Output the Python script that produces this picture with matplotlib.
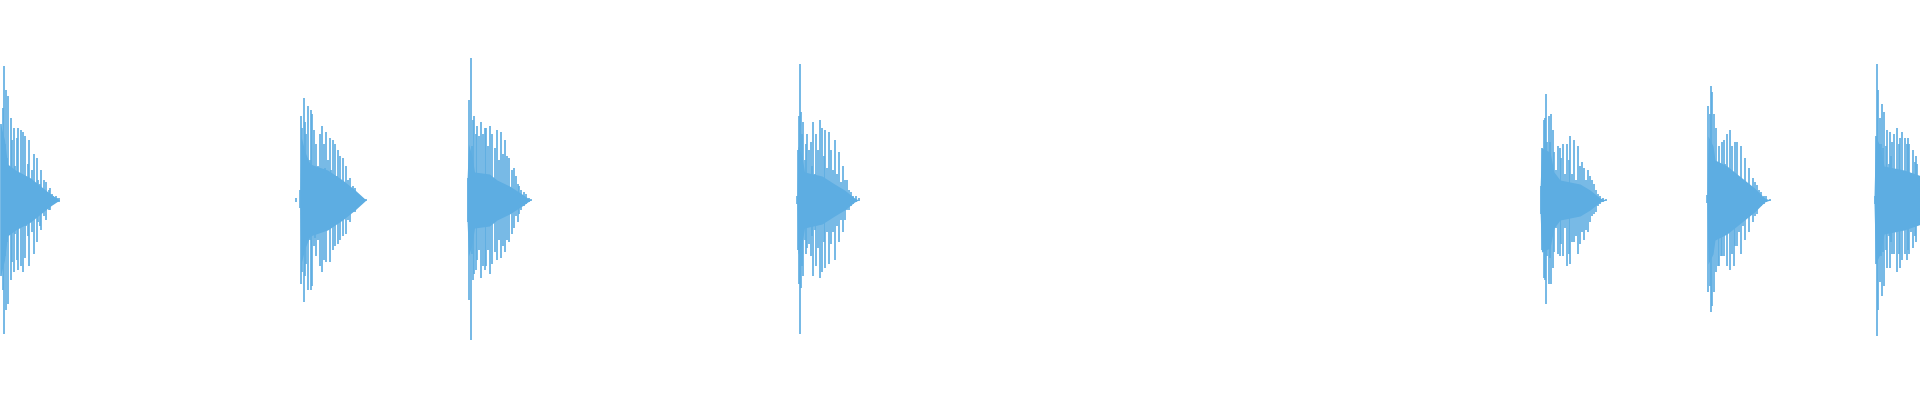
"""Drum-hit waveform strip: seven decaying bursts on a bare white canvas.
Saves out.png (1920x400)."""
import matplotlib
matplotlib.use("Agg")
import matplotlib.pyplot as plt
import numpy as np

COLOR = "#5DADE2"
DURATION_MS = 3840                                   # visible span
ONSETS_MS = [1, 600, 934, 1594, 3080, 3414, 3748]    # start of each hit

# per hit: peak times (ms after onset), peak max / min (normalised amplitude)
B1_T = [0, 5, 7, 9, 11, 13, 15, 18, 21, 23, 26, 29, 32, 35, 37, 41, 43, 45, 48, 51, 54, 57, 61, 63,
        66, 69, 72, 75, 79, 81, 84, 87, 90, 93, 97, 99, 102, 105, 110, 113, 117]
B1_HI = [0.38, 0.46, 0.67, 0.28, 0.55, 0.21, 0.52, 0.11, 0.41, 0.30, 0.36, 0.17, 0.31, 0.36, 0.13,
         0.35, 0.13, 0.34, 0.32, 0.09, 0.18, 0.30, 0.08, 0.15, 0.23, 0.05, 0.21, 0.10, 0.08, 0.15,
         0.04, 0.10, 0.09, 0.04, 0.05, 0.06, 0.03, 0.02, 0.02, 0.01, 0.01]
B1_LO = [-0.38, -0.45, -0.67, -0.28, -0.55, -0.21, -0.52, -0.11, -0.40, -0.31, -0.36, -0.17, -0.30,
         -0.35, -0.13, -0.33, -0.13, -0.36, -0.29, -0.13, -0.18, -0.33, -0.08, -0.16, -0.27, -0.07,
         -0.21, -0.11, -0.13, -0.15, -0.06, -0.08, -0.10, -0.04, -0.05, -0.05, -0.02, -0.02, -0.01,
         -0.01, -0.01]
B1_CORE_T = [0, 8, 14, 30, 60, 80, 100, 118]
B1_CORE = [0.38, 0.30, 0.18, 0.15, 0.11, 0.07, 0.03, 0.0]

B2_T = [-8, 0, 2, 4, 7, 9, 12, 15, 19, 21, 24, 27, 29, 32, 36, 39, 41, 44, 47, 49, 52, 55, 59, 62,
        65, 70, 73, 75, 80, 85, 91, 95, 100, 105, 110, 115, 120, 125, 132]
B2_HI = [0.01, 0.05, 0.42, 0.36, 0.51, 0.39, 0.33, 0.47, 0.20, 0.45, 0.43, 0.35, 0.15, 0.28, 0.17,
         0.33, 0.15, 0.37, 0.28, 0.16, 0.34, 0.20, 0.31, 0.15, 0.30, 0.28, 0.12, 0.25, 0.22, 0.21,
         0.17, 0.10, 0.11, 0.07, 0.06, 0.03, 0.015, 0.01, 0.005]
B2_LO = [-0.01, -0.04, -0.42, -0.36, -0.51, -0.38, -0.32, -0.45, -0.20, -0.45, -0.43, -0.23, -0.19,
         -0.28, -0.20, -0.33, -0.15, -0.36, -0.30, -0.14, -0.31, -0.14, -0.31, -0.13, -0.25, -0.23,
         -0.10, -0.22, -0.20, -0.18, -0.17, -0.10, -0.11, -0.06, -0.06, -0.03, -0.015, -0.01, -0.005]
B2_CORE_T = [0, 2, 10, 20, 55, 85, 110, 132]
B2_CORE = [0.05, 0.32, 0.24, 0.18, 0.15, 0.10, 0.05, 0.0]

B3_T = [1, 4, 7, 9, 11, 14, 17, 19, 23, 27, 31, 35, 38, 42, 45, 50, 55, 60, 63, 68, 71, 76, 79, 84,
        89, 93, 97, 101, 104, 108, 113, 117, 123, 127]
B3_HI = [0.11, 0.50, 0.71, 0.27, 0.40, 0.42, 0.33, 0.37, 0.32, 0.39, 0.33, 0.36, 0.36, 0.27, 0.37,
         0.33, 0.26, 0.35, 0.20, 0.34, 0.23, 0.30, 0.22, 0.21, 0.15, 0.16, 0.12, 0.08, 0.07, 0.05,
         0.04, 0.03, 0.01, 0.005]
B3_LO = [-0.11, -0.50, -0.70, -0.27, -0.40, -0.37, -0.35, -0.30, -0.25, -0.39, -0.33, -0.35, -0.33,
         -0.25, -0.37, -0.32, -0.26, -0.30, -0.20, -0.29, -0.23, -0.26, -0.20, -0.21, -0.17, -0.14,
         -0.08, -0.11, -0.07, -0.05, -0.03, -0.02, -0.01, -0.005]
B3_CORE_T = [0, 3, 10, 15, 45, 60, 85, 110, 127]
B3_CORE = [0.10, 0.28, 0.22, 0.14, 0.13, 0.10, 0.07, 0.03, 0.0]

B4_T = [0, 2, 4, 6, 8, 10, 12, 15, 17, 20, 23, 27, 29, 32, 35, 38, 41, 45, 49, 53, 56, 60, 64, 67,
        71, 75, 79, 83, 87, 91, 95, 99, 103, 107, 112, 117, 123]
B4_HI = [0.02, 0.25, 0.42, 0.68, 0.44, 0.33, 0.39, 0.20, 0.28, 0.33, 0.25, 0.29, 0.17, 0.39, 0.13,
         0.33, 0.25, 0.40, 0.36, 0.22, 0.35, 0.16, 0.34, 0.25, 0.15, 0.30, 0.13, 0.24, 0.09, 0.17,
         0.10, 0.10, 0.05, 0.04, 0.02, 0.02, 0.01]
B4_LO = [-0.02, -0.25, -0.42, -0.67, -0.44, -0.33, -0.38, -0.20, -0.27, -0.24, -0.22, -0.28, -0.18,
         -0.38, -0.15, -0.33, -0.24, -0.39, -0.36, -0.21, -0.34, -0.16, -0.32, -0.22, -0.16, -0.30,
         -0.13, -0.21, -0.10, -0.16, -0.10, -0.05, -0.05, -0.03, -0.02, -0.01, -0.005]
B4_CORE_T = [0, 2, 10, 15, 50, 75, 95, 115, 123]
B4_CORE = [0.02, 0.27, 0.22, 0.14, 0.12, 0.08, 0.05, 0.01, 0.0]

B5_T = [1, 4, 7, 9, 11, 13, 17, 19, 21, 25, 28, 32, 35, 39, 42, 45, 49, 53, 57, 60, 64, 68, 71, 75,
        79, 83, 87, 91, 95, 99, 103, 107, 111, 115, 120, 125, 132]
B5_HI = [0.07, 0.26, 0.40, 0.41, 0.53, 0.29, 0.42, 0.29, 0.43, 0.35, 0.24, 0.15, 0.27, 0.26, 0.21,
         0.28, 0.13, 0.28, 0.20, 0.32, 0.13, 0.30, 0.10, 0.27, 0.17, 0.19, 0.16, 0.10, 0.15, 0.12,
         0.10, 0.08, 0.05, 0.03, 0.02, 0.01, 0.005]
B5_LO = [-0.07, -0.25, -0.39, -0.40, -0.52, -0.28, -0.42, -0.29, -0.42, -0.34, -0.26, -0.14, -0.27,
         -0.28, -0.22, -0.28, -0.14, -0.33, -0.27, -0.32, -0.21, -0.21, -0.18, -0.27, -0.22, -0.16,
         -0.20, -0.15, -0.16, -0.11, -0.08, -0.07, -0.06, -0.03, -0.02, -0.01, -0.005]
B5_CORE_T = [0, 3, 20, 28, 40, 80, 100, 120, 132]
B5_CORE = [0.05, 0.26, 0.24, 0.14, 0.10, 0.08, 0.05, 0.01, 0.0]

B6_T = [-1, 2, 5, 7, 9, 13, 15, 17, 21, 24, 27, 30, 33, 36, 39, 43, 46, 49, 53, 56, 59, 63, 67, 71,
        75, 79, 83, 87, 91, 95, 99, 103, 108, 113, 118, 126]
B6_HI = [0.025, 0.47, 0.43, 0.57, 0.54, 0.43, 0.19, 0.36, 0.19, 0.27, 0.12, 0.29, 0.30, 0.18, 0.33,
         0.15, 0.35, 0.27, 0.12, 0.29, 0.29, 0.11, 0.27, 0.10, 0.21, 0.07, 0.16, 0.03, 0.11, 0.09,
         0.075, 0.05, 0.04, 0.02, 0.02, 0.005]
B6_LO = [-0.015, -0.46, -0.43, -0.56, -0.53, -0.46, -0.19, -0.36, -0.33, -0.33, -0.28, -0.28, -0.28,
         -0.17, -0.33, -0.16, -0.35, -0.27, -0.33, -0.23, -0.23, -0.16, -0.27, -0.13, -0.20, -0.08,
         -0.16, -0.07, -0.11, -0.08, -0.07, -0.03, -0.03, -0.02, -0.01, -0.005]
B6_CORE_T = [0, 2, 12, 16, 40, 70, 95, 115, 126]
B6_CORE = [0.02, 0.32, 0.27, 0.20, 0.17, 0.11, 0.06, 0.01, 0.0]

B7_T = [1, 3, 6, 8, 10, 12, 14, 16, 18, 20, 23, 26, 29, 31, 34, 36, 40, 43, 46, 49, 52, 55, 58, 61,
        65, 67, 70, 73, 77, 81, 83, 86, 89]
B7_HI = [0.02, 0.32, 0.68, 0.55, 0.28, 0.41, 0.28, 0.48, 0.26, 0.44, 0.27, 0.35, 0.18, 0.34, 0.22,
         0.29, 0.33, 0.15, 0.36, 0.28, 0.31, 0.34, 0.13, 0.31, 0.28, 0.31, 0.28, 0.13, 0.25, 0.19,
         0.22, 0.18, 0.09]
B7_LO = [-0.02, -0.32, -0.68, -0.55, -0.28, -0.41, -0.28, -0.48, -0.26, -0.43, -0.25, -0.34, -0.18,
         -0.34, -0.21, -0.27, -0.27, -0.13, -0.36, -0.27, -0.34, -0.30, -0.13, -0.27, -0.30, -0.25,
         -0.27, -0.16, -0.24, -0.18, -0.21, -0.10, -0.10]
B7_CORE_T = [0, 3, 12, 20, 60, 95]
B7_CORE = [0.02, 0.32, 0.27, 0.17, 0.15, 0.12]

HITS = [
    (B1_T, B1_HI, B1_LO, B1_CORE_T, B1_CORE),
    (B2_T, B2_HI, B2_LO, B2_CORE_T, B2_CORE),
    (B3_T, B3_HI, B3_LO, B3_CORE_T, B3_CORE),
    (B4_T, B4_HI, B4_LO, B4_CORE_T, B4_CORE),
    (B5_T, B5_HI, B5_LO, B5_CORE_T, B5_CORE),
    (B6_T, B6_HI, B6_LO, B6_CORE_T, B6_CORE),
    (B7_T, B7_HI, B7_LO, B7_CORE_T, B7_CORE),
]


def main():
    fig = plt.figure(figsize=(19.2, 4.0), dpi=100)
    ax = fig.add_axes([0, 0, 1, 1])
    for onset, (t, hi, lo, ct, core) in zip(ONSETS_MS, HITS):
        ct = onset + np.asarray(ct, float); core = np.asarray(core, float)
        ax.fill_between(ct, -core, core, color=COLOR, lw=0)
        ax.vlines(onset + np.asarray(t, float), lo, hi, color=COLOR, lw=1.2)
    ax.set_xlim(0, DURATION_MS); ax.set_ylim(-1, 1)
    ax.axis("off")
    fig.savefig("out.png", dpi=100, facecolor="white")
    plt.close(fig)


if __name__ == "__main__":
    main()
